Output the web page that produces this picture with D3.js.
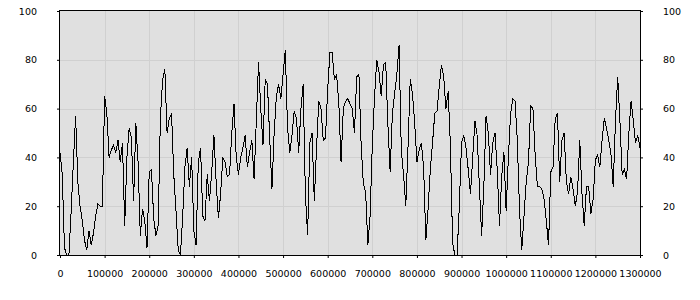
<!DOCTYPE html>
<html>
<head>
<meta charset="utf-8">
<script src="https://cdn.jsdelivr.net/npm/d3@7"></script>
<style>
  body { margin: 0; background: #fff; }
  text { font-family: "DejaVu Sans", sans-serif; font-size: 9.5px; fill: #000; }
</style>
</head>
<body>
<svg id="chart" width="700" height="300"></svg>
<script>
// x tick labels and y ticks
const xTicks = [0, 100000, 200000, 300000, 400000, 500000, 600000, 700000,
  800000, 900000, 1000000, 1100000, 1200000, 1300000];
const yTicks = [0, 20, 40, 60, 80, 100];

// one reading every 5000 along x, from 0 to 1300000
const step = 5000;
const values = [
  42, 33, 3, 0, 0, 18, 38, 57, 30, 20, 14, 6, 2, 10, 4, 9, 16, 21, 20, 20,
  65, 58, 40, 43, 45, 42, 47, 38, 46, 12, 40, 52, 48, 22, 54, 38, 8, 19, 14, 3,
  34, 35, 15, 8, 12, 56, 72, 76, 50, 56, 58, 33, 18, 2, 0, 16, 36, 44, 28, 40,
  10, 4, 38, 44, 16, 14,
  33, 22, 34, 49, 30, 15, 25, 40, 38, 32, 33, 50, 62, 40, 33, 40, 44, 49, 36, 42,
  47, 31, 55, 79, 60, 45, 72, 70, 48, 27, 50, 65, 70, 64, 74, 84, 52, 42, 49, 59,
  56, 42, 60, 70, 25, 8, 46, 50, 22, 44, 63, 60, 47, 48, 68, 83, 83, 72, 74, 62,
  38, 60, 63, 64, 62,
  60, 50, 73, 74, 45, 29, 26, 4, 16, 45, 65, 80, 75, 65, 78, 79, 53, 34, 58, 66,
  74, 86, 43, 33, 20, 44, 72, 66, 54, 38, 43, 46, 36, 6, 19, 35, 46, 58, 59, 69,
  78, 73, 60, 67, 45, 5, 0, 0, 20, 46, 49, 44, 35, 25, 40, 55, 49, 28, 8, 28,
  57, 50, 33, 46, 50,
  35, 12, 32, 42, 18, 40, 58, 64, 63, 47, 18, 2, 16, 30, 38, 61, 60, 41, 28, 28,
  27, 23, 14, 4, 34, 36, 56, 58, 30, 47, 50, 30, 25, 32, 27, 20, 26, 47, 25, 12,
  28, 28, 17, 23, 39, 41, 36, 47, 56, 52, 47, 41, 28, 55, 73, 55, 33, 35, 31, 50,
  63, 55, 46, 49, 44
];

const margin = { top: 11, right: 60, bottom: 45, left: 60 };
const width = 700 - margin.left - margin.right;
const height = 300 - margin.top - margin.bottom;

const svg = d3.select("#chart")
  .append("g")
  .attr("transform", "translate(" + margin.left + "," + margin.top + ")");

const x = d3.scaleLinear().domain([0, 1300000]).range([0, width]);
const y = d3.scaleLinear().domain([0, 100]).range([height, 0]);

svg.append("rect")
  .attr("width", width)
  .attr("height", height)
  .attr("fill", "#e0e0e0");

// grid
svg.append("g").selectAll("line")
  .data(xTicks.slice(1, -1))
  .enter().append("line")
  .attr("x1", d => Math.round(x(d)) + 0.5).attr("x2", d => Math.round(x(d)) + 0.5)
  .attr("y1", 0).attr("y2", height)
  .attr("stroke", "#d0d0d0");

svg.append("g").selectAll("line")
  .data(yTicks.slice(1, -1))
  .enter().append("line")
  .attr("x1", 0).attr("x2", width)
  .attr("y1", d => Math.round(y(d)) + 0.5).attr("y2", d => Math.round(y(d)) + 0.5)
  .attr("stroke", "#d0d0d0");

// line
const line = d3.line()
  .x((d, i) => x(i * step))
  .y(d => y(d));

svg.append("path")
  .datum(values)
  .attr("d", line)
  .attr("fill", "none")
  .attr("stroke", "#000")
  .attr("stroke-width", 1)
  .style("shape-rendering", "crispEdges");

// axes
const xAxis = svg.append("g")
  .attr("transform", "translate(0," + height + ")")
  .call(d3.axisBottom(x).tickValues(xTicks).tickFormat(d3.format("d")).tickSize(3).tickPadding(12));

const yLeft = svg.append("g")
  .call(d3.axisLeft(y).tickValues(yTicks).tickSize(3).tickPadding(20));

const yRight = svg.append("g")
  .attr("transform", "translate(" + width + ",0)")
  .call(d3.axisRight(y).tickValues(yTicks).tickSize(3).tickPadding(20));

[xAxis, yLeft, yRight].forEach(g => {
  g.select(".domain").remove();
  g.selectAll("text").attr("font-family", "DejaVu Sans").attr("font-size", 9.5).attr("fill", "#000");
  g.selectAll("line").attr("stroke", "#000");
});

// frame
svg.append("rect")
  .attr("x", -0.5).attr("y", -0.5)
  .attr("width", width + 1)
  .attr("height", height + 1)
  .attr("fill", "none")
  .attr("stroke", "#000");
</script>
</body>
</html>
